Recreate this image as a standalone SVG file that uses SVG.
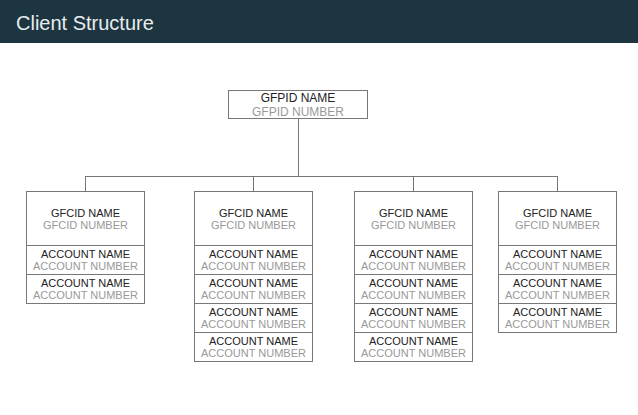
<svg xmlns="http://www.w3.org/2000/svg" width="638" height="415" viewBox="0 0 638 415">
<style>
.box{fill:#fff;stroke:#777;stroke-width:1}
.ln{fill:none;stroke:#777;stroke-width:1}
.nm{font-family:"Liberation Sans",Arial,sans-serif;font-size:11px;fill:#222;text-anchor:middle}
.nb{font-family:"Liberation Sans",Arial,sans-serif;font-size:11px;fill:#999;text-anchor:middle}
.big{font-size:12px}
.title{font-family:"Liberation Sans",Arial,sans-serif;font-size:20px;fill:#e8ecee}
</style>
<rect width="638" height="415" fill="#fff"/>
<g id="header">
<rect x="0" y="0" width="638" height="43" fill="#1d3540"/>
<text class="title" x="16" y="30">Client Structure</text>
</g>
<g id="connectors">
<path class="ln" d="M298.5 119 V176.5 M85.5 176.5 H557.5 M85.5 176 V191 M253.5 176 V191 M413.5 176 V191 M557.5 176 V191"/>
</g>
<g id="gfpid">
<rect class="box" x="228.5" y="90.5" width="139" height="28"/>
<text class="nm big" x="298" y="102">GFPID NAME</text>
<text class="nb big" x="298" y="116">GFPID NUMBER</text>
</g>
<g id="col1">
<rect class="box" x="26.5" y="191.5" width="118" height="54"/>
<text class="nm" x="85.5" y="217">GFCID NAME</text>
<text class="nb" x="85.5" y="229">GFCID NUMBER</text>
<rect class="box" x="26.5" y="245.5" width="118" height="29"/>
<text class="nm" x="85.5" y="258">ACCOUNT NAME</text>
<text class="nb" x="85.5" y="270">ACCOUNT NUMBER</text>
<rect class="box" x="26.5" y="274.5" width="118" height="29"/>
<text class="nm" x="85.5" y="287">ACCOUNT NAME</text>
<text class="nb" x="85.5" y="299">ACCOUNT NUMBER</text>
</g>
<g id="col2">
<rect class="box" x="194.5" y="191.5" width="118" height="54"/>
<text class="nm" x="253.5" y="217">GFCID NAME</text>
<text class="nb" x="253.5" y="229">GFCID NUMBER</text>
<rect class="box" x="194.5" y="245.5" width="118" height="29"/>
<text class="nm" x="253.5" y="258">ACCOUNT NAME</text>
<text class="nb" x="253.5" y="270">ACCOUNT NUMBER</text>
<rect class="box" x="194.5" y="274.5" width="118" height="29"/>
<text class="nm" x="253.5" y="287">ACCOUNT NAME</text>
<text class="nb" x="253.5" y="299">ACCOUNT NUMBER</text>
<rect class="box" x="194.5" y="303.5" width="118" height="29"/>
<text class="nm" x="253.5" y="316">ACCOUNT NAME</text>
<text class="nb" x="253.5" y="328">ACCOUNT NUMBER</text>
<rect class="box" x="194.5" y="332.5" width="118" height="29"/>
<text class="nm" x="253.5" y="345">ACCOUNT NAME</text>
<text class="nb" x="253.5" y="357">ACCOUNT NUMBER</text>
</g>
<g id="col3">
<rect class="box" x="354.5" y="191.5" width="118" height="54"/>
<text class="nm" x="413.5" y="217">GFCID NAME</text>
<text class="nb" x="413.5" y="229">GFCID NUMBER</text>
<rect class="box" x="354.5" y="245.5" width="118" height="29"/>
<text class="nm" x="413.5" y="258">ACCOUNT NAME</text>
<text class="nb" x="413.5" y="270">ACCOUNT NUMBER</text>
<rect class="box" x="354.5" y="274.5" width="118" height="29"/>
<text class="nm" x="413.5" y="287">ACCOUNT NAME</text>
<text class="nb" x="413.5" y="299">ACCOUNT NUMBER</text>
<rect class="box" x="354.5" y="303.5" width="118" height="29"/>
<text class="nm" x="413.5" y="316">ACCOUNT NAME</text>
<text class="nb" x="413.5" y="328">ACCOUNT NUMBER</text>
<rect class="box" x="354.5" y="332.5" width="118" height="29"/>
<text class="nm" x="413.5" y="345">ACCOUNT NAME</text>
<text class="nb" x="413.5" y="357">ACCOUNT NUMBER</text>
</g>
<g id="col4">
<rect class="box" x="498.5" y="191.5" width="118" height="54"/>
<text class="nm" x="557.5" y="217">GFCID NAME</text>
<text class="nb" x="557.5" y="229">GFCID NUMBER</text>
<rect class="box" x="498.5" y="245.5" width="118" height="29"/>
<text class="nm" x="557.5" y="258">ACCOUNT NAME</text>
<text class="nb" x="557.5" y="270">ACCOUNT NUMBER</text>
<rect class="box" x="498.5" y="274.5" width="118" height="29"/>
<text class="nm" x="557.5" y="287">ACCOUNT NAME</text>
<text class="nb" x="557.5" y="299">ACCOUNT NUMBER</text>
<rect class="box" x="498.5" y="303.5" width="118" height="29"/>
<text class="nm" x="557.5" y="316">ACCOUNT NAME</text>
<text class="nb" x="557.5" y="328">ACCOUNT NUMBER</text>
</g>
</svg>
